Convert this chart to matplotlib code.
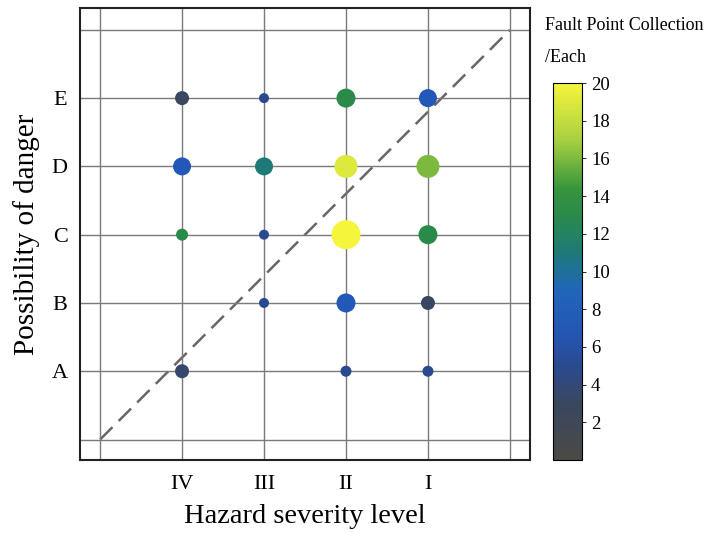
import matplotlib
matplotlib.use("Agg")
import matplotlib.pyplot as plt
from matplotlib.colors import LinearSegmentedColormap

plt.rcParams['font.family'] = ['Liberation Serif', 'DejaVu Serif']

# Data
severity_labels = ['IV', 'III', 'II', 'I']
possibility_labels = ['A', 'B', 'C', 'D', 'E']
point_severity = ['IV', 'III', 'II', 'I',
                  'IV', 'III', 'II', 'I',
                  'IV', 'III', 'II', 'I',
                  'III', 'II', 'I',
                  'IV', 'II', 'I']
point_possibility = ['E', 'E', 'E', 'E',
                     'D', 'D', 'D', 'D',
                     'C', 'C', 'C', 'C',
                     'B', 'B', 'B',
                     'A', 'A', 'A']
fault_counts = [3, 5, 13, 7,
                7, 11, 19, 16,
                13, 5, 20, 13,
                5, 7, 3,
                3.5, 5, 5]
marker_diam_px = [14, 10, 19, 18,
                  18, 18, 23, 23,
                  12, 10, 29, 19,
                  10, 19, 14,
                  14, 11, 11]
cbar_ticks = [2, 4, 6, 8, 10, 12, 14, 16, 18, 20]

cmap = LinearSegmentedColormap.from_list('fault', [
    (0.0, '#4a4a46'), (0.15, '#3a4760'), (0.25, '#2a4a90'),
    (0.35, '#2358b8'), (0.45, '#1f66b8'), (0.55, '#1e7a78'),
    (0.65, '#2a8a4a'), (0.72, '#36953c'), (0.85, '#a8d040'),
    (1.0, '#f5f53c')])

fig = plt.figure(figsize=(7.10, 5.33), dpi=100)
ax = fig.add_axes([80/710, 1-460/533, 450/710, 452/533])

xpos = [severity_labels.index(s) + 1 for s in point_severity]
ypos = [possibility_labels.index(p) + 1 for p in point_possibility]
sizes = [(d * 0.72) ** 2 for d in marker_diam_px]

ax.set_xlim(-0.245, 5.245)
ax.set_ylim(-0.3, 6.32)
ax.set_xticks(range(6))
ax.set_xticklabels([''] + severity_labels + [''])
ax.set_yticks(range(7))
ax.set_yticklabels([''] + possibility_labels + [''])
ax.tick_params(axis='x', length=0, labelsize=16, pad=11)
ax.tick_params(axis='y', length=0, labelsize=16, pad=9)
ax.grid(True, color='#7a7a7a', linewidth=1.0, zorder=0)
for sp in ax.spines.values():
    sp.set_linewidth(1.5)
    sp.set_color('#222222')

ax.plot([0, 5], [0, 6], linestyle=(0, (7, 3.5)), color='#6a6464', linewidth=1.8, zorder=1)

sc = ax.scatter(xpos, ypos, s=sizes, c=fault_counts, cmap=cmap, vmin=0, vmax=20,
                edgecolors='none', zorder=3)

ax.set_xlabel('Hazard severity level', fontsize=20.5, labelpad=7)
ax.set_ylabel('Possibility of danger', fontsize=21, labelpad=8)

cax = fig.add_axes([553/710, 1-460/533, 29/710, 377/533])
cb = fig.colorbar(sc, cax=cax, ticks=cbar_ticks)
cb.outline.set_linewidth(0.8)
cb.ax.tick_params(labelsize=13.5, length=3, width=0.6)

fig.text(545/710, 1-25/533, 'Fault Point Collection', fontsize=13, ha='left', va='center')
fig.text(545/710, 1-57/533, '/Each', fontsize=13, ha='left', va='center')

fig.savefig('out.png', dpi=100)
